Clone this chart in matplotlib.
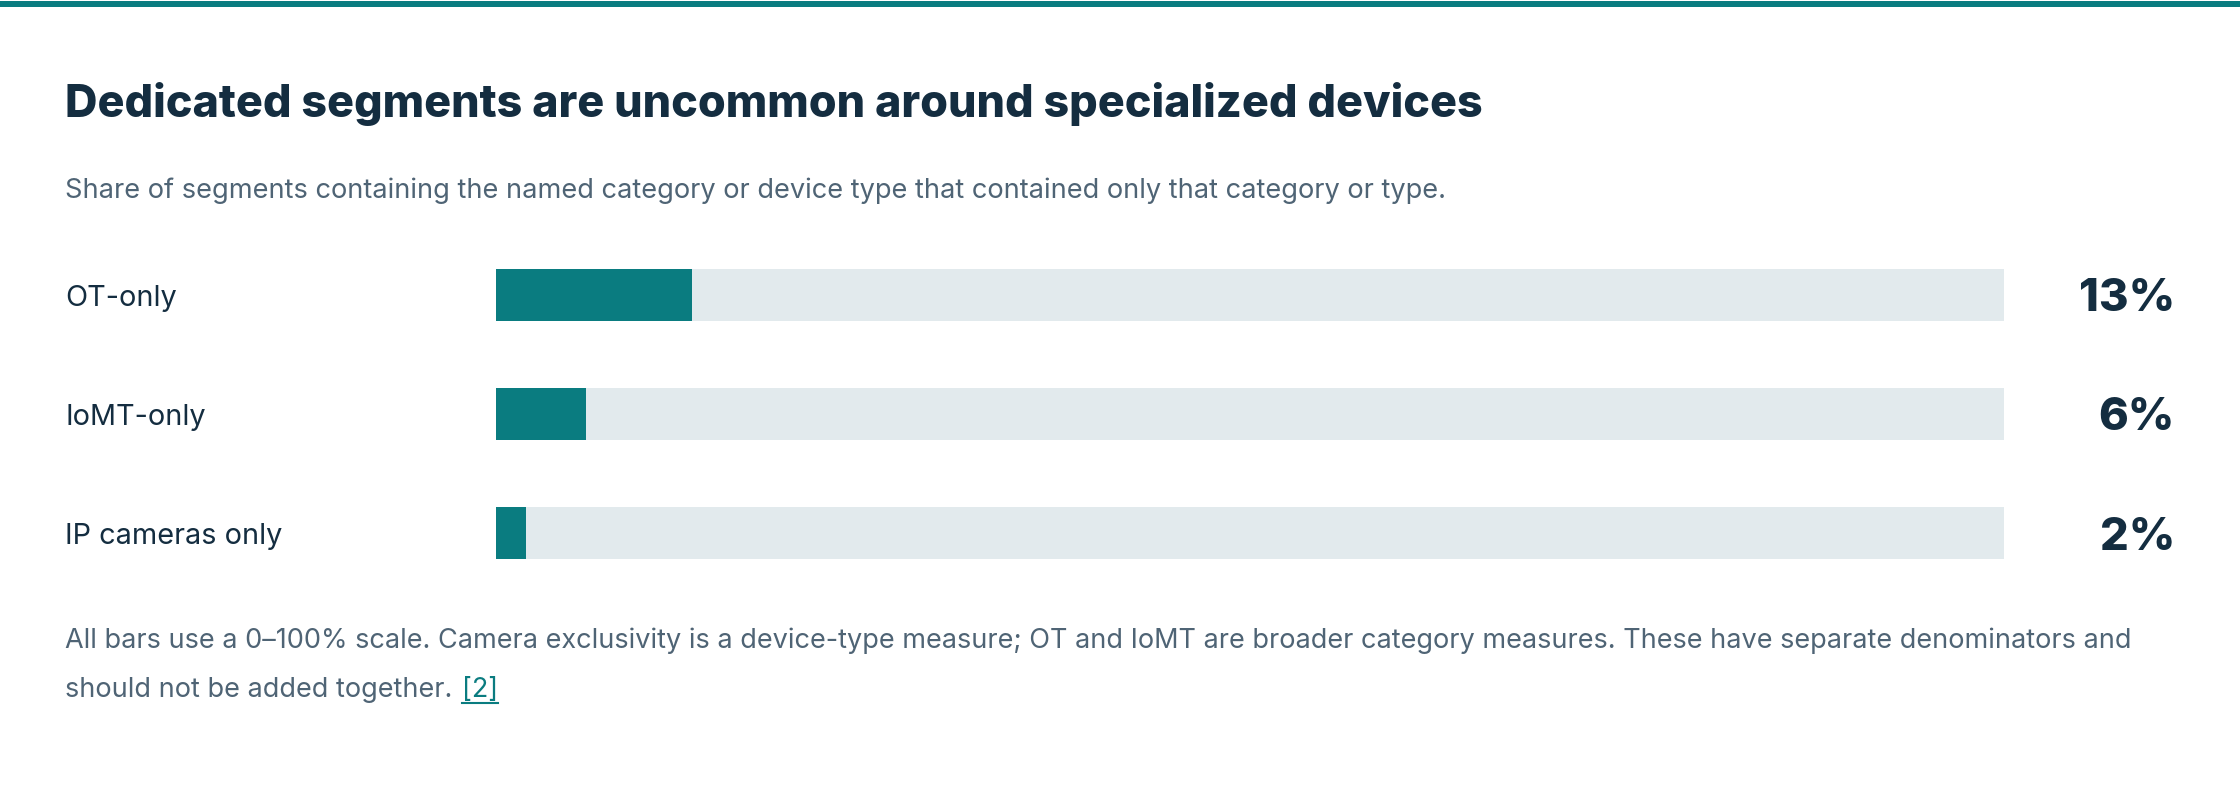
import matplotlib
matplotlib.use("Agg")
import matplotlib.pyplot as plt
from matplotlib.transforms import blended_transform_factory, offset_copy
from matplotlib.patches import Rectangle
from matplotlib.lines import Line2D

# ---- data ----
categories = ["OT-only", "IoMT-only", "IP cameras only"]
values = [13, 6, 2]
value_labels = ["13%", "6%", "2%"]
scale_max = 100

title = "Dedicated segments are uncommon around specialized devices"
subtitle = ("Share of segments containing the named category or device type "
            "that contained only that category or type.")
note_line1 = ("All bars use a 0\u2013100% scale. Camera exclusivity is a device-type measure; "
              "OT and IoMT are broader category measures. These have separate denominators and")
note_line2 = "should not be added together."
note_ref = "[2]"

# ---- style ----
W, H, DPI = 2240, 804, 100
TEAL = "#0a7c80"
TRACK = "#e2eaed"
NAVY = "#142d40"
GREY = "#4f6475"
FONT = ["Inter", "DejaVu Sans"]

plt.rcParams["font.family"] = FONT

fig = plt.figure(figsize=(W / DPI, H / DPI), dpi=DPI)
fig.patch.set_facecolor("white")

def fx(px):
    return px / W

def fy(py):
    return 1 - py / H

# top accent band
fig.add_artist(Rectangle((0, fy(8)), 1, 6 / H, transform=fig.transFigure,
                         facecolor=TEAL, edgecolor="none"))

# title & subtitle
fig.text(fx(65), fy(117), title, fontsize=32.3, fontweight=800, color=NAVY,
         ha="left", va="baseline")
fig.text(fx(65), fy(198), subtitle, fontsize=19.6, color=GREY,
         ha="left", va="baseline")

# bar axes
bar_left, bar_right = 496, 2004
row_step = 119
bar_h_px = 52
bh = bar_h_px / row_step
n = len(categories)
top_px = 270
ax_h_px = (n - 1) * row_step + bar_h_px
ax = fig.add_axes([fx(bar_left), fy(top_px + ax_h_px), (bar_right - bar_left) / W, ax_h_px / H])
ax.set_xlim(0, scale_max)
ax.set_ylim(n - 1 + bh / 2, -bh / 2)
ax.axis("off")

ys = list(range(n))
ax.barh(ys, [scale_max] * n, height=bh, color=TRACK, edgecolor="none")
ax.barh(ys, values, height=bh, color=TEAL, edgecolor="none")

blend = blended_transform_factory(fig.transFigure, ax.transData)
lab_tr = offset_copy(blend, fig=fig, x=0, y=-10.5, units="dots")
val_tr = offset_copy(blend, fig=fig, x=0, y=-15.5, units="dots")
for y, cat, vl in zip(ys, categories, value_labels):
    fig.text(fx(65), y, cat, transform=lab_tr, fontsize=20.8, color=NAVY,
             ha="left", va="baseline")
    fig.text(fx(2175), y, vl, transform=val_tr, fontsize=32.5, fontweight=800,
             color=NAVY, ha="right", va="baseline")

# footnote
fig.text(fx(65), fy(648), note_line1, fontsize=19.5, color=GREY, ha="left", va="baseline")
fig.text(fx(65), fy(697), note_line2, fontsize=19.5, color=GREY, ha="left", va="baseline")
tr = fig.text(fx(462), fy(697), note_ref, fontsize=19.5, color=TEAL, ha="left", va="baseline")
fig.canvas.draw()
rb = tr.get_window_extent(fig.canvas.get_renderer())
fig.add_artist(Line2D([rb.x0 / W, rb.x1 / W], [fy(704), fy(704)], transform=fig.transFigure,
                      color=TEAL, linewidth=1.5))

fig.savefig("out.png", dpi=DPI, facecolor="white")
